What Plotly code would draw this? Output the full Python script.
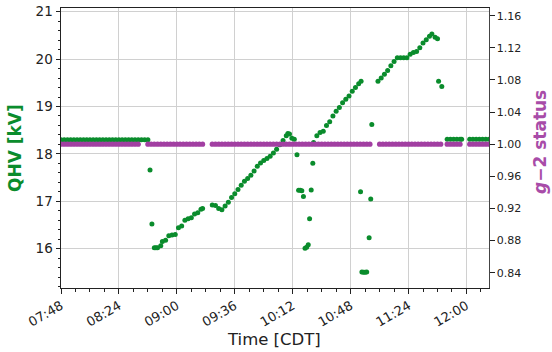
import plotly.graph_objects as go

DAY = "2024-06-01 "

# QHV readings (time of day, kV)
qhv_times = [
    "07:48", "07:50", "07:52", "07:54", "07:56", "07:58", "08:00", "08:02", "08:04", "08:06",
    "08:08", "08:10", "08:12", "08:14", "08:16", "08:18", "08:20", "08:22", "08:24", "08:26",
    "08:28", "08:30", "08:32", "08:34", "08:36", "08:38", "08:40", "08:42",
    "08:43:20", "08:44:30",
    "08:46", "08:47", "08:48", "08:50", "08:51", "08:53", "08:55", "08:57", "08:59",
    "09:01", "09:03", "09:05", "09:07", "09:09", "09:11", "09:13", "09:15", "09:16",
    "09:22", "09:24", "09:26", "09:28", "09:30", "09:32", "09:34", "09:36", "09:38", "09:40",
    "09:42", "09:44", "09:46", "09:48", "09:50", "09:52", "09:54", "09:56", "09:58", "10:00",
    "10:02", "10:04", "10:06", "10:08", "10:09", "10:10", "10:11:30", "10:13",
    "10:14:40", "10:15:40", "10:16:40", "10:17:40", "10:18:40", "10:19:40", "10:20:40",
    "10:21:40", "10:22:30", "10:23:30", "10:24:30",
    "10:25", "10:27", "10:29", "10:31", "10:33", "10:35", "10:37", "10:39", "10:41", "10:43",
    "10:45", "10:47", "10:49", "10:51", "10:53", "10:54:30",
    "10:54:10", "10:55", "10:56", "10:57", "10:58", "10:59:30", "11:00:30", "11:01:10",
    "11:05", "11:07", "11:09", "11:11", "11:13", "11:15", "11:17", "11:19", "11:21", "11:23",
    "11:25", "11:27", "11:29", "11:31", "11:33", "11:35", "11:37", "11:38:30", "11:40:30", "11:42",
    "11:42:40", "11:44:40",
    "11:48", "11:50", "11:52", "11:54", "11:56", "11:57",
    "12:02", "12:04", "12:06", "12:08", "12:10", "12:12", "12:14",
]
qhv_values = [
    18.3, 18.3, 18.3, 18.3, 18.3, 18.3, 18.3, 18.3, 18.3, 18.3,
    18.3, 18.3, 18.3, 18.3, 18.3, 18.3, 18.3, 18.3, 18.3, 18.3,
    18.3, 18.3, 18.3, 18.3, 18.3, 18.3, 18.3, 18.3,
    17.66, 16.52,
    16.02, 16.02, 16.02, 16.06, 16.15, 16.18, 16.27, 16.29, 16.3,
    16.44, 16.48, 16.6, 16.63, 16.65, 16.73, 16.76, 16.83, 16.85,
    16.92, 16.91, 16.85, 16.82, 16.9, 16.98, 17.08, 17.16, 17.25, 17.34,
    17.42, 17.48, 17.55, 17.64, 17.74, 17.81, 17.86, 17.9, 17.95, 18.02,
    18.1, 18.19, 18.28, 18.38, 18.43, 18.42, 18.33, 18.31,
    17.98, 17.23, 17.23, 17.22, 17.1, 16.01, 16.03,
    16.08, 16.63, 17.24, 17.8,
    18.24, 18.38, 18.45, 18.48, 18.6, 18.68, 18.8, 18.9, 18.98, 19.08,
    19.15, 19.22, 19.32, 19.4, 19.48, 19.53,
    17.2, 15.51, 15.5, 15.5, 15.51, 16.23, 17.05, 18.62,
    19.53, 19.6, 19.68, 19.76, 19.86, 19.95, 20.03, 20.03, 20.03, 20.03,
    20.1, 20.14, 20.16, 20.24, 20.34, 20.41, 20.48, 20.53, 20.46, 20.43,
    19.53, 19.42,
    18.31, 18.31, 18.31, 18.31, 18.31, 18.31,
    18.31, 18.31, 18.31, 18.31, 18.31, 18.31, 18.31,
]

# g-2 status readings (time of day, status)
g2_times = [
    "07:48", "07:50", "07:52", "07:54", "07:56", "07:58", "08:00", "08:02", "08:04", "08:06",
    "08:08", "08:10", "08:12", "08:14", "08:16", "08:18", "08:20", "08:22", "08:24", "08:26",
    "08:28", "08:30", "08:32", "08:34", "08:36",
    "08:42", "08:44", "08:46", "08:48", "08:50", "08:52", "08:54", "08:56", "08:58", "09:00",
    "09:02", "09:04", "09:06", "09:08", "09:10", "09:12", "09:14", "09:16",
    "09:22", "09:24", "09:26", "09:28", "09:30", "09:32", "09:34", "09:36", "09:38", "09:40",
    "09:42", "09:44", "09:46", "09:48", "09:50", "09:52", "09:54", "09:56", "09:58", "10:00",
    "10:02", "10:04", "10:06", "10:08", "10:10", "10:12", "10:14", "10:16", "10:18", "10:20",
    "10:22", "10:24", "10:26", "10:28", "10:30", "10:32", "10:34", "10:36", "10:38", "10:40",
    "10:42", "10:44", "10:46", "10:48", "10:50", "10:52", "10:54", "10:56", "10:58", "11:00",
    "11:06", "11:08", "11:10", "11:12", "11:14", "11:16", "11:18", "11:20", "11:22", "11:24",
    "11:26", "11:28", "11:30", "11:32", "11:34", "11:36", "11:38", "11:40", "11:42", "11:44",
    "11:48", "11:50", "11:52", "11:54", "11:56",
    "12:02", "12:04", "12:06", "12:08", "12:10", "12:12", "12:14",
]
g2_values = [
    1.0, 1.0, 1.0, 1.0, 1.0, 1.0, 1.0, 1.0, 1.0, 1.0,
    1.0, 1.0, 1.0, 1.0, 1.0, 1.0, 1.0, 1.0, 1.0, 1.0,
    1.0, 1.0, 1.0, 1.0, 1.0,
    1.0, 1.0, 1.0, 1.0, 1.0, 1.0, 1.0, 1.0, 1.0, 1.0,
    1.0, 1.0, 1.0, 1.0, 1.0, 1.0, 1.0, 1.0,
    1.0, 1.0, 1.0, 1.0, 1.0, 1.0, 1.0, 1.0, 1.0, 1.0,
    1.0, 1.0, 1.0, 1.0, 1.0, 1.0, 1.0, 1.0, 1.0, 1.0,
    1.0, 1.0, 1.0, 1.0, 1.0, 1.0, 1.0, 1.0, 1.0, 1.0,
    1.0, 1.0, 1.0, 1.0, 1.0, 1.0, 1.0, 1.0, 1.0, 1.0,
    1.0, 1.0, 1.0, 1.0, 1.0, 1.0, 1.0, 1.0, 1.0, 1.0,
    1.0, 1.0, 1.0, 1.0, 1.0, 1.0, 1.0, 1.0, 1.0, 1.0,
    1.0, 1.0, 1.0, 1.0, 1.0, 1.0, 1.0, 1.0, 1.0, 1.0,
    1.0, 1.0, 1.0, 1.0, 1.0,
    1.0, 1.0, 1.0, 1.0, 1.0, 1.0, 1.0,
]

x_tick_labels = ["07:48", "08:24", "09:00", "09:36", "10:12", "10:48", "11:24", "12:00"]
left_ticks = [16, 17, 18, 19, 20, 21]
right_ticks = [0.84, 0.88, 0.92, 0.96, 1.00, 1.04, 1.08, 1.12, 1.16]

x_title = "Time [CDT]"
left_title = "<b>QHV [kV]</b>"
right_title = "<b><i>g</i>\u22122 status</b>"

GREEN = "#0a8c2c"
PURPLE = "#a23fa2"
AXC = "#222222"
GRID = "#d0d0d0"

W, H = 552, 352
ML, MR, MT, MB = 61, 63, 8, 64
PW, PH = W - ML - MR, H - MT - MB


def px_x(p):
    return (p - ML) / PW


def px_y(p):
    return (H - MB - p) / PH


fig = go.Figure()
fig.add_trace(go.Scatter(
    x=[DAY + t for t in qhv_times], y=qhv_values, mode="markers",
    marker=dict(size=5, color=GREEN, line=dict(width=0)),
    yaxis="y", showlegend=False, name="QHV",
))
fig.add_trace(go.Scatter(
    x=[DAY + t for t in g2_times], y=g2_values, mode="markers",
    marker=dict(size=5.2, color=PURPLE, line=dict(width=0)),
    yaxis="y2", showlegend=False, name="g-2 status",
))

fig.update_layout(
    width=W, height=H,
    margin=dict(l=ML, r=MR, t=MT, b=MB, autoexpand=False),
    paper_bgcolor="white", plot_bgcolor="white",
    font=dict(family="DejaVu Sans", color=AXC),
    xaxis=dict(
        type="date",
        range=[DAY + "07:48", DAY + "12:14"],
        automargin=False,
        tickmode="array",
        tickvals=[DAY + t for t in x_tick_labels],
        ticktext=x_tick_labels,
        tickangle=-30,
        tickfont=dict(size=13, color=AXC),
        ticks="outside", ticklen=4.5, tickcolor=AXC, tickwidth=1,
        showline=True, linecolor=AXC, linewidth=1, mirror=True,
        showgrid=True, gridcolor=GRID, gridwidth=1.3,
        zeroline=False,
        minor=dict(ticks="outside", ticklen=2.5, tickcolor=AXC, tickmode="linear",
                   tick0=DAY + "07:48", dtick=9 * 60 * 1000, showgrid=False),
    ),
    yaxis=dict(
        range=[15.17, 21.078],
        automargin=False,
        tickmode="array", tickvals=left_ticks,
        tickfont=dict(size=13.5, color=AXC),
        ticks="outside", ticklen=4.5, tickcolor=AXC, tickwidth=1,
        showline=True, linecolor=AXC, linewidth=1,
        showgrid=True, gridcolor=GRID, gridwidth=1.3,
        zeroline=False,
        minor=dict(ticks="outside", ticklen=2.5, tickcolor=AXC, tickmode="linear",
                   tick0=15, dtick=0.2, showgrid=False),
    ),
    yaxis2=dict(
        overlaying="y", side="right",
        range=[0.821, 1.1696],
        automargin=False,
        tickmode="array", tickvals=right_ticks, tickformat=".2f",
        tickfont=dict(size=11, color=AXC),
        ticks="outside", ticklen=4.5, tickcolor=AXC, tickwidth=1,
        showline=True, linecolor="#444444", linewidth=1,
        showgrid=False, zeroline=False,
    ),
    annotations=[
        dict(text=x_title, xref="paper", yref="paper", x=px_x(274), y=px_y(339),
             xanchor="center", yanchor="middle", showarrow=False,
             font=dict(size=16.5, color=AXC, family="DejaVu Sans")),
        dict(text=left_title, xref="paper", yref="paper", x=px_x(15), y=px_y(148),
             xanchor="center", yanchor="middle", showarrow=False, textangle=-90,
             font=dict(size=17, color=GREEN, family="DejaVu Sans")),
        dict(text=right_title, xref="paper", yref="paper", x=px_x(540), y=px_y(142),
             xanchor="center", yanchor="middle", showarrow=False, textangle=-90,
             font=dict(size=17, color="#a84ca8", family="DejaVu Sans")),
    ],
)

fig.write_html("out.html", config={"displayModeBar": False},
               post_script="document.body.style.margin='0';")
